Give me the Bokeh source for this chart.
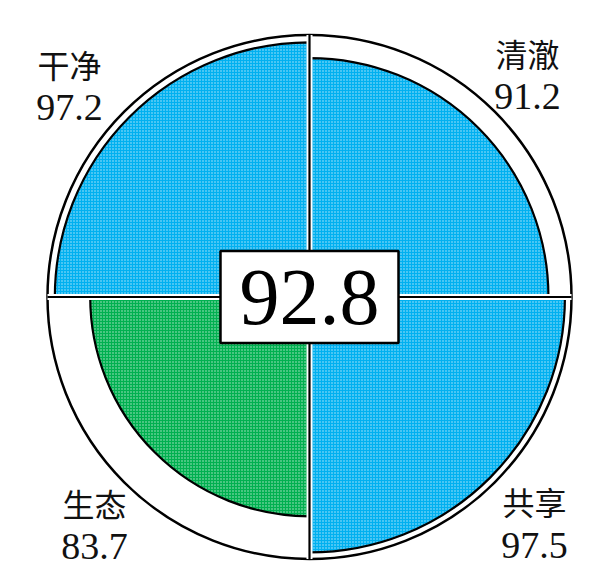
import math
from bokeh.plotting import figure
from bokeh.models import ColumnDataSource
from bokeh.core.properties import value
from bokeh.embed import file_html
from bokeh.resources import INLINE

# ---- data ----
categories = ["清澈", "干净", "生态", "共享"]
scores = [91.2, 97.2, 83.7, 97.5]
overall = 92.8
colors = ["#00B0F0", "#00B0F0", "#00B050", "#00B0F0"]

# ---- layout ----
W, H = 606, 588
CX, CY = 309, 296.5      # centre of the circle, px from plot top-left
R = 262                  # px radius for a score of 100

p = figure(width=W, height=H, output_backend="svg", toolbar_location=None,
           x_range=(-CX, W - CX), y_range=(-(H - CY), CY), min_border=0)
p.axis.visible = False
p.grid.visible = False
p.outline_line_color = None
p.background_fill_color = "white"

starts = [i * math.pi / 2 for i in range(4)]
ends = [s + math.pi / 2 for s in starts]
radii = [v / 100 * R for v in scores]
src = ColumnDataSource(dict(r=radii, s=starts, e=ends, c=colors))

# outer circle
p.scatter([0], [0], size=2 * R, marker="circle", fill_color=None,
          line_color="black", line_width=2.5)

p.wedge(x=0, y=0, radius="r", start_angle="s", end_angle="e", source=src,
        fill_color="c", line_color="black", line_width=2.2,
        hatch_pattern="dot", hatch_color="white", hatch_scale=3,
        hatch_weight=1.0, hatch_alpha=0.7)

# axis cross lines with white gaps
p.segment(x0=[-R, 0], y0=[0, -R], x1=[R, 0], y1=[0, R],
          line_color="white", line_width=6)
p.segment(x0=[-R, 0], y0=[0, -R], x1=[R, 0], y1=[0, R],
          line_color="black", line_width=2.2)

# centre box
p.rect(x=[0], y=[0], width=178, height=92, fill_color="white",
       line_color="black", line_width=2.5)
p.text(x=[0], y=[0], text=[f"{overall}"], text_font=value("Liberation Serif"),
       text_font_size="80px", text_align="center", text_baseline="middle",
       text_color="black")

# labels (positions in px offset from centre)
lab_x = [218, -240, -215, 225]
lab_y_name = [244, 233.5, -206, -203.5]
lab_y_num = [201, 190, -249, -248]
p.text(x=lab_x, y=lab_y_name, text=categories,
       text_font=value("Noto Sans CJK SC"), text_font_size="32px",
       text_align="center", text_baseline="middle", text_color="#111111")
p.text(x=lab_x, y=lab_y_num, text=[f"{v}" for v in scores],
       text_font=value("Liberation Serif"), text_font_size="38px",
       text_align="center", text_baseline="middle", text_color="#111111")

open("out.html", "w").write(file_html(p, INLINE))
